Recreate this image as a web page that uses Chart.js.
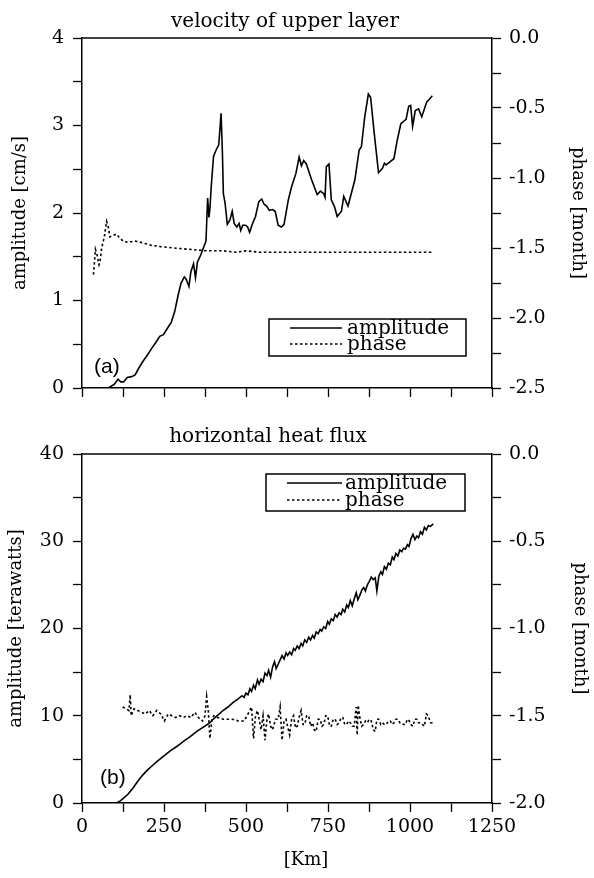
<!DOCTYPE html>
<html>
<head>
<meta charset="UTF-8">
<title>velocity / heat flux</title>
<style>
	body {margin: 0; background: #fff;}
	.panel {position: absolute; left: 0;}
</style>
</head>
<body>
	<!-- (a) velocity of upper layer -->
	<div class="panel" style="top:0px"><canvas id="velChart" width="594" height="420"></canvas></div>
	<!-- (b) horizontal heat flux -->
	<div class="panel" style="top:420px"><canvas id="fluxChart" width="594" height="458"></canvas></div>
</body>
<script src="https://cdn.jsdelivr.net/npm/chart.js"></script>
<script>
	// ---- (a) upper layer velocity ----
	const velAmpKm = [22, 80, 98, 110, 118, 127, 138, 151, 162, 172, 185, 200, 212, 225, 237, 248, 260, 272, 283, 293,
		302, 312, 318, 326, 332, 340, 346, 352, 362, 372, 378, 383, 387, 390, 394, 401, 409, 417, 424, 428,
		431, 436, 443, 451, 458, 464, 472, 479, 484, 490, 499, 505, 511, 518, 529, 539, 548, 555, 563, 571,
		581, 589, 598, 608, 616, 629, 639, 652, 662, 669, 676, 684, 700, 717, 727, 737, 741, 745, 753, 760,
		770, 778, 791, 798, 811, 832, 845, 852, 862, 873, 880, 891, 904, 916, 922, 927, 934, 951, 961, 972,
		988, 996, 1002, 1008, 1016, 1026, 1036, 1043, 1051, 1059, 1068];
	const velAmp = [0, 0, 0.04, 0.10, 0.07, 0.07, 0.12, 0.13, 0.15, 0.22, 0.30, 0.38, 0.45, 0.52, 0.59, 0.61, 0.68, 0.75, 0.88, 1.06,
		1.20, 1.27, 1.24, 1.16, 1.33, 1.42, 1.26, 1.44, 1.52, 1.62, 1.68, 2.17, 1.95, 2.05, 2.30, 2.65, 2.72, 2.78, 3.14, 2.70,
		2.22, 2.12, 1.87, 1.92, 2.02, 1.88, 1.84, 1.88, 1.80, 1.86, 1.86, 1.84, 1.78, 1.86, 1.96, 2.13, 2.16, 2.10, 2.08, 2.03,
		2.04, 2.02, 1.86, 1.84, 1.87, 2.15, 2.30, 2.45, 2.64, 2.54, 2.60, 2.56, 2.38, 2.21, 2.25, 2.22, 2.18, 2.53, 2.56, 2.15,
		2.07, 1.96, 2.02, 2.19, 2.08, 2.38, 2.72, 2.76, 3.10, 3.36, 3.32, 2.91, 2.46, 2.51, 2.57, 2.55, 2.57, 2.62, 2.83, 3.02,
		3.07, 3.22, 3.23, 2.99, 3.17, 3.19, 3.10, 3.18, 3.27, 3.30, 3.34];
	const velPhaseKm = [35, 38, 41, 46, 52, 55, 60, 68, 75, 80, 85, 95, 105, 112, 125, 140, 160, 180, 210, 240,
		280, 330, 380, 430, 470, 500, 540, 600, 700, 800, 900, 1000, 1068];
	const velPhase = [-1.69, -1.60, -1.51, -1.55, -1.62, -1.60, -1.50, -1.42, -1.31, -1.35, -1.42, -1.41, -1.40, -1.42, -1.45, -1.46, -1.45, -1.46, -1.48, -1.49,
		-1.50, -1.51, -1.52, -1.52, -1.53, -1.52, -1.53, -1.53, -1.53, -1.53, -1.53, -1.53, -1.53];

	// ---- (b) horizontal heat flux ----
	const fluxAmpKm = [54, 80, 106, 115, 125, 140, 155, 170, 185, 200, 215, 230, 250, 270, 290, 310, 330, 350, 370, 382,
		390, 400, 415, 430, 445, 460, 475, 488, 494, 500, 506, 512, 517, 523, 528, 535, 540, 546, 552, 558,
		564, 569, 575, 581, 587, 592, 598, 604, 610, 616, 622, 627, 633, 639, 645, 650, 656, 662, 668, 673,
		679, 685, 691, 697, 703, 708, 714, 720, 726, 731, 737, 743, 749, 754, 760, 766, 772, 778, 784, 790,
		795, 801, 807, 812, 818, 824, 830, 836, 841, 847, 853, 859, 864, 870, 876, 882, 888, 894, 899, 905,
		911, 916, 922, 928, 934, 940, 946, 951, 957, 963, 969, 975, 980, 986, 992, 997, 1003, 1009, 1015, 1021,
		1026, 1032, 1038, 1044, 1050, 1056, 1062, 1071];
	const fluxAmp = [0, 0, 0, 0.2, 0.5, 1.0, 1.7, 2.5, 3.2, 3.8, 4.3, 4.8, 5.4, 6.0, 6.5, 7.1, 7.6, 8.2, 8.7, 9.0,
		9.2, 9.6, 10.1, 10.6, 11.0, 11.5, 11.9, 12.3, 12.1, 12.6, 12.4, 13.1, 12.8, 13.5, 13.1, 14.1, 13.6, 14.2, 13.9, 14.9,
		14.6, 15.2, 14.4, 15.6, 16.2, 15.4, 15.9, 16.4, 16.9, 16.5, 17.2, 16.9, 17.3, 17.0, 17.7, 17.5, 18.0, 17.7, 18.3, 18.0,
		18.7, 18.4, 19.0, 18.7, 19.2, 18.9, 19.6, 19.4, 19.9, 19.7, 20.2, 20.0, 20.8, 20.5, 21.1, 20.9, 21.6, 21.3, 21.8, 21.6,
		22.2, 21.9, 22.7, 22.4, 23.2, 22.6, 23.4, 24.1, 23.3, 23.8, 24.4, 24.7, 24.3, 25.0, 25.4, 25.9, 25.6, 25.8, 24.3, 26.0,
		26.5, 26.2, 27.1, 26.8, 27.5, 27.3, 28.2, 27.9, 28.6, 28.3, 29.0, 28.8, 29.2, 29.1, 29.6, 29.4, 30.3, 30.8, 30.2, 30.6,
		30.4, 31.1, 30.8, 31.6, 31.3, 31.8, 31.7, 32.0];
	const fluxPhaseKm = [124, 135, 143, 147, 150, 159, 170, 182, 193, 205, 216, 228, 240, 251, 263, 274, 286, 297, 309, 321,
		332, 344, 355, 367, 375, 380, 385, 390, 396, 402, 413, 431, 442, 459, 477, 494, 506, 517, 523, 529,
		535, 546, 552, 558, 564, 569, 575, 581, 590, 598, 604, 610, 616, 622, 628, 633, 639, 645, 651, 656,
		662, 668, 674, 679, 685, 691, 697, 703, 708, 714, 720, 726, 732, 737, 743, 749, 755, 760, 766, 772,
		778, 784, 790, 795, 801, 807, 812, 818, 824, 830, 836, 839, 842, 847, 853, 859, 864, 870, 876, 882,
		888, 894, 899, 905, 911, 916, 922, 928, 934, 940, 946, 951, 957, 963, 969, 974, 980, 986, 992, 998,
		1003, 1009, 1015, 1021, 1026, 1032, 1038, 1044, 1050, 1056, 1062, 1071];
	const fluxPhase = [-1.45, -1.46, -1.47, -1.38, -1.50, -1.46, -1.47, -1.48, -1.49, -1.47, -1.50, -1.47, -1.49, -1.53, -1.49, -1.50, -1.51, -1.50, -1.51, -1.50,
		-1.51, -1.48, -1.51, -1.53, -1.50, -1.39, -1.47, -1.63, -1.52, -1.50, -1.51, -1.52, -1.52, -1.52, -1.53, -1.53, -1.49, -1.45, -1.63, -1.50,
		-1.47, -1.58, -1.50, -1.64, -1.52, -1.49, -1.56, -1.58, -1.52, -1.52, -1.45, -1.64, -1.53, -1.52, -1.57, -1.61, -1.52, -1.50, -1.57, -1.56,
		-1.51, -1.47, -1.55, -1.55, -1.50, -1.50, -1.56, -1.54, -1.58, -1.59, -1.52, -1.52, -1.56, -1.55, -1.50, -1.50, -1.56, -1.56, -1.52, -1.52,
		-1.55, -1.54, -1.51, -1.51, -1.55, -1.55, -1.53, -1.54, -1.56, -1.56, -1.45, -1.61, -1.44, -1.51, -1.56, -1.55, -1.53, -1.54, -1.52, -1.53,
		-1.58, -1.59, -1.52, -1.52, -1.55, -1.54, -1.55, -1.55, -1.53, -1.53, -1.55, -1.54, -1.52, -1.52, -1.54, -1.54, -1.55, -1.55, -1.52, -1.53,
		-1.55, -1.56, -1.52, -1.52, -1.54, -1.54, -1.55, -1.56, -1.49, -1.50, -1.54, -1.54];

	const seriesNames = ['amplitude', 'phase'];

	Chart.defaults.font.family = "'DejaVu Serif', serif";
	Chart.defaults.color = '#000';

	function pairs(xs, ys) {
		return xs.map((x, i) => ({x: x, y: ys[i]}));
	}
	function onStep(v, step) {	// true when v is a multiple of step
		const q = v / step;
		return Math.abs(q - Math.round(q)) < 1e-6;
	}

	// box, title, x-title, panel tag and legend drawn on top of the plot
	const panelDeco = {
		id: 'panelDeco',
		afterDraw(chart, args, o) {
			const ctx = chart.ctx, a = chart.chartArea;
			ctx.save();
			ctx.strokeStyle = '#000';
			ctx.fillStyle = '#000';
			ctx.lineWidth = 1.5;
			ctx.beginPath();
			ctx.moveTo(a.left, a.top);
			ctx.lineTo(a.right, a.top);
			ctx.stroke();

			ctx.textAlign = 'center';
			ctx.textBaseline = 'middle';
			ctx.font = "20px 'DejaVu Serif'";
			ctx.fillText(o.title, o.titleX, o.titleY);
			if (o.xTitle) {
				ctx.font = "18px 'DejaVu Serif'";
				ctx.fillText(o.xTitle, o.xTitleX, o.xTitleY);
			}

			ctx.textAlign = 'left';
			ctx.font = "21px 'Liberation Sans'";
			ctx.fillText(o.tag, a.left + o.tagDx, a.bottom - o.tagDy);

			const L = o.legend;
			const bx = a.left + L.dx, by = a.top + L.dy;
			ctx.lineWidth = 1.5;
			ctx.strokeRect(bx, by, L.w, L.h);
			ctx.font = "20px 'DejaVu Serif'";
			chart.data.datasets.forEach((ds, i) => {
				const ry = by + L.rows[i];
				ctx.setLineDash(ds.borderDash || []);
				ctx.lineWidth = ds.borderWidth;
				ctx.beginPath();
				ctx.moveTo(bx + L.sx0, ry);
				ctx.lineTo(bx + L.sx1, ry);
				ctx.stroke();
				ctx.setLineDash([]);
				ctx.fillText(ds.label, bx + L.tx, ry + 1);
			});
			ctx.restore();
		}
	};

	const gridOpts = {drawOnChartArea: false, drawTicks: true, tickLength: 9, tickColor: '#000', tickWidth: 1.3};
	const borderOpts = {color: '#000', width: 1.5};

	function makeChart(id, c) {
		return new Chart(document.getElementById(id), {
			type: 'line',
			data: {
				datasets: [{
					label: seriesNames[0],
					data: pairs(c.ampKm, c.amp),
					yAxisID: 'y',
					borderColor: '#000',
					borderWidth: 1.6,
					pointRadius: 0,
					tension: 0,
					fill: false
				}, {
					label: seriesNames[1],
					data: pairs(c.phaseKm, c.phase),
					yAxisID: 'y1',
					borderColor: '#000',
					borderWidth: 1.6,
					borderDash: [2.5, 2.5],
					pointRadius: 0,
					tension: 0,
					fill: false
				}]
			},
			options: {
				responsive: false,
				animation: false,
				layout: {padding: {top: c.padTop, left: 0, right: 0, bottom: 0}},
				scales: {
					x: {
						type: 'linear', min: 0, max: 1250,
						ticks: {stepSize: 125, autoSkip: false, maxRotation: 0, padding: 4, font: {size: 19},
							callback: v => (c.xLabels && onStep(v, 250)) ? String(v) : ''},
						grid: gridOpts, border: borderOpts,
						afterFit: s => { s.height = c.xHeight; }
					},
					y: {
						position: 'left', min: c.ampMin, max: c.ampMax,
						ticks: {stepSize: c.ampStep / 2, autoSkip: false, padding: 9, font: {size: 19},
							callback: v => onStep(v, c.ampStep) ? String(v) : ''},
						grid: gridOpts, border: borderOpts,
						title: {display: true, text: c.ampTitle, font: {size: 18}, padding: {top: c.leftTitlePad, bottom: 0}},
						afterFit: s => { s.width = 82; }
					},
					y1: {
						position: 'right', min: c.phaseMin, max: 0,
						ticks: {stepSize: 0.25, autoSkip: false, padding: 8, font: {size: 19},
							callback: v => onStep(v, 0.5) ? v.toFixed(1) : ''},
						grid: gridOpts, border: borderOpts,
						title: {display: true, text: 'phase [month]', font: {size: 18}, padding: {top: c.rightTitlePad, bottom: 0}},
						afterFit: s => { s.width = 102; }
					}
				},
				plugins: {
					legend: {display: false},
					tooltip: {enabled: false},
					panelDeco: c.deco
				}
			},
			plugins: [panelDeco]
		});
	}

	makeChart('velChart', {
		ampKm: velAmpKm, amp: velAmp, phaseKm: velPhaseKm, phase: velPhase,
		ampMin: 0, ampMax: 4, ampStep: 1, phaseMin: -2.5,
		ampTitle: 'amplitude [cm/s]',
		padTop: 38, xHeight: 32, xLabels: false,
		leftTitlePad: 10, rightTitlePad: 6,
		deco: {
			title: 'velocity of upper layer', titleX: 285, titleY: 22,
			tag: '(a)', tagDx: 12, tagDy: 21,
			legend: {dx: 187, dy: 281, w: 197, h: 37, rows: [9, 25], sx0: 21, sx1: 73, tx: 78}
		}
	});

	makeChart('fluxChart', {
		ampKm: fluxAmpKm, amp: fluxAmp, phaseKm: fluxPhaseKm, phase: fluxPhase,
		ampMin: 0, ampMax: 40, ampStep: 10, phaseMin: -2,
		ampTitle: 'amplitude [terawatts]',
		padTop: 34, xHeight: 75, xLabels: true,
		leftTitlePad: 6, rightTitlePad: 4,
		deco: {
			title: 'horizontal heat flux', titleX: 268, titleY: 17,
			xTitle: '[Km]', xTitleX: 306, xTitleY: 440,
			tag: '(b)', tagDx: 18, tagDy: 25,
			legend: {dx: 184, dy: 20, w: 199, h: 37, rows: [9, 26], sx0: 21, sx1: 76, tx: 79}
		}
	});
</script>
</html>
